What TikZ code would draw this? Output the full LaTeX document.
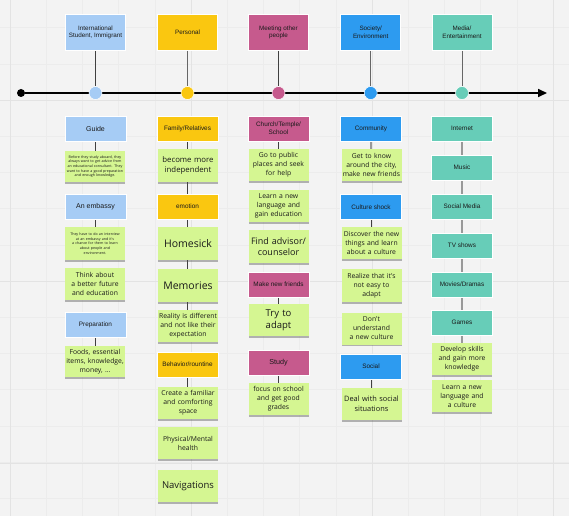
\documentclass[tikz,border=0pt]{standalone}
\usepackage{fontspec}
\setmainfont{Liberation Sans}
\newfontfamily\stickyfont{Open Sans}
\usetikzlibrary{shadows,arrows.meta}
\definecolor{bgc}{HTML}{F3F3F3}
\definecolor{gridmin}{HTML}{ECECEC}
\definecolor{gridmaj}{HTML}{E3E3E3}
\definecolor{cLB}{HTML}{A6CCF5}
\definecolor{cYE}{HTML}{FAC710}
\definecolor{cPK}{HTML}{C65A8D}
\definecolor{cBL}{HTML}{2D9BF0}
\definecolor{cTE}{HTML}{67CDB8}
\definecolor{cST}{HTML}{D5F692}
\definecolor{txt}{HTML}{1A1A1A}
\tikzset{
  hdr/.style={draw=white, line width=0.6pt, minimum width=60pt, minimum height=36pt, inner sep=1pt, align=center, font=\fontsize{6.3}{7.6}\selectfont, text=txt},
  lbl/.style={draw=white, line width=0.6pt, minimum width=61pt, minimum height=25pt, inner sep=1pt, align=center, font=\fontsize{6.4}{7.6}\selectfont, text=txt},
  sticky/.style={fill=cST, minimum width=60pt, minimum height=32pt, inner sep=1pt, align=center, text width=58pt, text=txt,
    font=\stickyfont\fontsize{6.8}{9}\selectfont,
    drop shadow={opacity=0.4, shadow xshift=0pt, shadow yshift=-1.8pt, fill=black!70}},
  tiny/.style={font=\stickyfont\fontsize{3.6}{4.7}\selectfont},
  big/.style={font=\stickyfont\fontsize{10.5}{12.5}\selectfont},
  conn/.style={draw=black!75, line width=0.8pt},
  gconn/.style={draw=black!40, line width=1.6pt},
  dot/.style={circle, minimum size=13pt, inner sep=0pt, draw=white, line width=0.5pt},
}
\begin{document}
\begin{tikzpicture}[x=1pt,y=-1pt]
\useasboundingbox (0,0) rectangle (569,516);
\fill[bgc] (0,0) rectangle (569,516);
% grid
\foreach \i in {-4,...,16} {
  \draw[gridmin, line width=0.4pt] ({10+36.2*\i},0) -- ({10+36.2*\i},516);
  \draw[gridmin, line width=0.4pt] (0,{100+36.2*\i}) -- (569,{100+36.2*\i});
}
\foreach \i in {0,...,3} {
  \draw[gridmaj, line width=0.6pt] ({10+181*\i},0) -- ({10+181*\i},516);
}
\foreach \i in {-1,...,2} {
  \draw[gridmaj, line width=0.6pt] (0,{100+181.5*\i}) -- (569,{100+181.5*\i});
}
% timeline
\coordinate (tend) at (547,93);
\node[circle, fill=black, minimum size=8pt, inner sep=0pt] (start) at (21,93) {};
\draw[line width=1.6pt, -{Triangle[length=9pt,width=8pt]}] (start) -- (tend);
% header boxes
\node[hdr, fill=cLB] (h1) at (95.5,32.5) {International\\Student, Immigrant};
\node[hdr, fill=cYE] (h2) at (187.5,32.5) {Personal};
\node[hdr, fill=cPK] (h3) at (278.5,32.5) {Meeting other\\people};
\node[hdr, fill=cBL] (h4) at (370.7,32.5) {Society/\\Environment};
\node[hdr, fill=cTE] (h5) at (462,32.5) {Media/\\Entertainment};
\node[dot, fill=cLB] (d1) at (95.5,93) {};
\node[dot, fill=cYE] (d2) at (187.5,93) {};
\node[dot, fill=cPK] (d3) at (278.5,93) {};
\node[dot, fill=cBL] (d4) at (370.7,93) {};
\node[dot, fill=cTE] (d5) at (462,93) {};
\draw[conn] (h1) -- (d1);
\draw[conn, draw=black!60, line width=1pt] (h2) -- (d2);
\draw[conn] (h3) -- (d3);
\draw[conn, draw=black!60, line width=1pt] (h4) -- (d4);
\draw[conn, draw=black!60, line width=1pt] (h5) -- (d5);
% ---------- column 1
\draw[conn] (95.5,141) -- (95.5,152);
\draw[conn] (95.5,219) -- (95.5,228);
\draw[conn] (95.5,337) -- (95.5,347);
\node[lbl, fill=cLB, font=\fontsize{7}{8}\selectfont] (c1a) at (95.5,128.5) {Guide};
\node[sticky, tiny, minimum height=31pt] (c1s1) at (95,166.5) {Before they study aboard, they\\always want to get advice from\\an educational consultant. They\\want to have a good preparation\\and enough knowledge.};
\node[lbl, fill=cLB, font=\fontsize{7}{8}\selectfont] (c1b) at (95.5,207) {An embassy};
\node[sticky, tiny, minimum height=33pt] (c1s2) at (95,243.5) {They have to do an interview\\at an embassy and it's\\a chance for them to learn\\about people and\\environment.};
\node[sticky] (c1s3) at (95,284) {Think about\\a better future\\and education};
\node[lbl, fill=cLB] (c1c) at (95.5,324.5) {Preparation};
\node[sticky, minimum height=31pt] (c1s4) at (95,361.5) {Foods, essential\\items, knowledge,\\money, \dots};
% ---------- column 2
\draw[conn] (187.5,141) -- (187.5,310);
\draw[conn] (187.5,377) -- (187.5,388);
\node[lbl, fill=cYE] (c2a) at (187.5,128.5) {Family/Relatives};
\node[sticky, font=\stickyfont\fontsize{7.8}{10}\selectfont, minimum height=33pt] (c2s1) at (188,165.5) {become more\\independent};
\node[lbl, fill=cYE] (c2b) at (187.5,206.5) {emotion};
\node[sticky, big, minimum height=33pt] (c2s2) at (188,243.5) {Homesick};
\node[sticky, big, minimum height=33pt] (c2s3) at (188,285.5) {Memories};
\node[sticky] (c2s4) at (188,326) {Reality is different\\and not like their\\expectation};
\node[lbl, fill=cYE] (c2c) at (187.5,364.5) {Behavior/rountine};
\node[sticky] (c2s5) at (188,403) {Create a familiar\\and comforting\\space};
\node[sticky] (c2s6) at (188,443) {Physical/Mental\\health};
\node[sticky, font=\stickyfont\fontsize{9.5}{12}\selectfont] (c2s7) at (188,486) {Navigations};
% ---------- column 3
\draw[conn] (278.5,141) -- (278.5,150);
\draw[conn] (278.5,297) -- (278.5,305);
\draw[conn] (278.5,375) -- (278.5,384);
\node[lbl, fill=cPK] (c3a) at (278.5,128.5) {Church/Temple/\\School};
\node[sticky] (c3s1) at (278.5,165) {Go to public\\places and seek\\for help};
\node[sticky] (c3s2) at (278.5,206) {Learn a new\\language and\\gain education};
\node[sticky, font=\stickyfont\fontsize{9}{11.5}\selectfont, minimum height=33pt] (c3s3) at (278.5,246.5) {Find advisor/\\counselor};
\node[lbl, fill=cPK] (c3b) at (278.5,284.5) {Make new friends};
\node[sticky, font=\stickyfont\fontsize{9.5}{12}\selectfont] (c3s4) at (278.5,320) {Try to\\adapt};
\node[lbl, fill=cPK, font=\fontsize{7.2}{8}\selectfont] (c3c) at (278.5,363) {Study};
\node[sticky] (c3s5) at (278.5,399) {focus on school\\and get good\\grades};
% ---------- column 4
\draw[gconn] (371,141) -- (371,150);
\draw[conn] (371,219) -- (371,228);
\draw[conn] (371,379) -- (371,389);
\node[lbl, fill=cBL] (c4a) at (371,128.5) {Community};
\node[sticky] (c4s1) at (371.5,165) {Get to know\\around the city,\\make new friends};
\node[lbl, fill=cBL] (c4b) at (371,207) {Culture shock};
\node[sticky] (c4s2) at (371.5,243) {Discover the new\\things and learn\\about a culture};
\node[sticky, minimum height=33pt] (c4s3) at (371.5,285.5) {Realize that it's\\not easy to\\adapt};
\node[sticky] (c4s4) at (371.5,328.5) {Don't\\understand\\a new culture};
\node[lbl, fill=cBL] (c4c) at (371,366.5) {Social};
\node[sticky, font=\stickyfont\fontsize{7.4}{9.6}\selectfont] (c4s5) at (371.5,404) {Deal with social\\situations};
% ---------- column 5
\draw[gconn] (462,141) -- (462,344);
\node[lbl, fill=cTE] (c5a) at (462,128.5) {Internet};
\node[lbl, fill=cTE] (c5b) at (462,167.5) {Music};
\node[lbl, fill=cTE] (c5c) at (462,206.5) {Social Media};
\node[lbl, fill=cTE] (c5d) at (462,245.5) {TV shows};
\node[lbl, fill=cTE] (c5e) at (462,284.5) {Movies/Dramas};
\node[lbl, fill=cTE] (c5f) at (462,322.5) {Games};
\node[sticky] (c5s1) at (462,359) {Develop skills\\and gain more\\knowledge};
\node[sticky] (c5s2) at (462,396) {Learn a new\\language and\\a culture};
\end{tikzpicture}
\end{document}
